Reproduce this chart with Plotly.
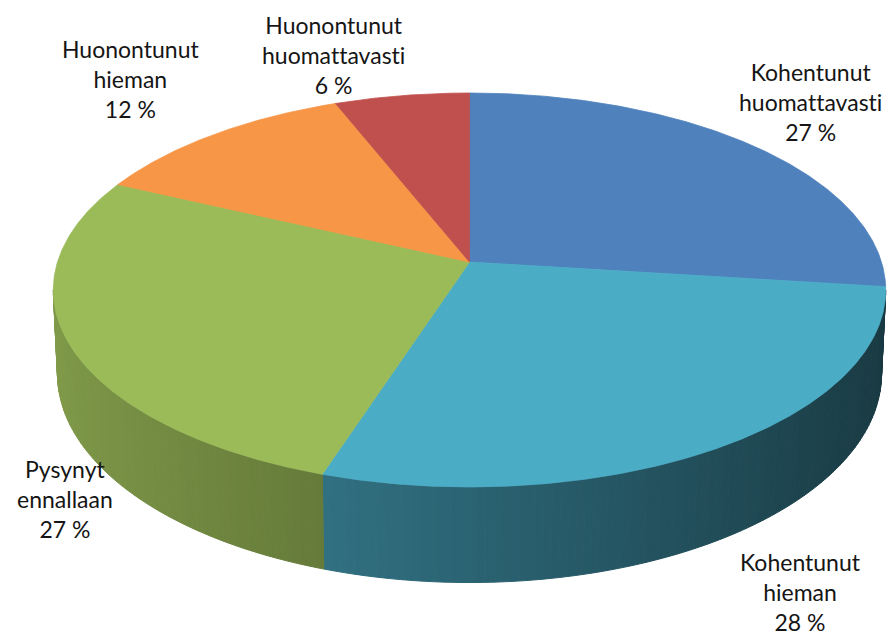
import numpy as np
import plotly.graph_objects as go

# --- data -------------------------------------------------------------
categories = [
    "Kohentunut huomattavasti",
    "Kohentunut hieman",
    "Pysynyt ennallaan",
    "Huonontunut hieman",
    "Huonontunut huomattavasti",
]
values = [27, 28, 27, 12, 6]
colors = ["#4F81BD", "#4BACC6", "#9BBB59", "#F79646", "#C0504D"]

# label anchor points (pixel space of the 894x637 canvas)
label_xy = [(810, 102), (800, 592), (65, 499), (130, 79), (333, 55)]

# --- geometry of the tilted, perspective-projected pie ------------------
W, Hpx = 894, 637
CX, CY = 469.5, 262.0      # projected centre of the top face
KX, KY = 412.0, 193.0      # horizontal / vertical radii before perspective
P = 0.142                  # perspective strength
DEPTH = 82.0               # thickness of the pie


def top_pt(theta):
    t = np.radians(theta)
    s, c = np.sin(t), np.cos(t)
    d = 1 + P * c
    return CX + KX * s / d, CY - KY * c / d


def bottom_pt(theta):
    t = np.radians(theta)
    c = np.cos(t)
    d = 1 + P * c
    x, y = top_pt(theta)
    return CX + (x - CX) * 0.99, y + DEPTH / d


def shade(hex_color, f):
    h = hex_color.lstrip("#")
    r, g, b = (int(h[i:i + 2], 16) for i in (0, 2, 4))
    return "rgb({},{},{})".format(int(r * f), int(g * f), int(b * f))


total = float(sum(values))
starts = np.cumsum([0] + values[:-1]) / total * 360.0
ends = np.cumsum(values) / total * 360.0

fig = go.Figure()

# visible part of the outer wall: where the rim faces the viewer
vis_lo = np.degrees(np.arccos(-P))
vis_hi = 360.0 - vis_lo

for a0, a1, col in zip(starts, ends, colors):
    lo, hi = max(a0, vis_lo), min(a1, vis_hi)
    if hi <= lo:
        continue
    n = max(1, int(np.ceil((hi - lo) / 1.0)))
    edges = np.linspace(lo, hi, n + 1)
    for t0, t1 in zip(edges[:-1], edges[1:]):
        sub = np.linspace(t0, t1, 4)
        tx, ty = top_pt(sub)
        bx, by = bottom_pt(sub[::-1])
        xs = np.concatenate([tx, bx, tx[:1]])
        ys = np.concatenate([ty, by, ty[:1]])
        tm = np.radians(0.5 * (t0 + t1))
        f = 0.58 - 0.25 * np.sin(tm)
        c = shade(col, f)
        fig.add_trace(go.Scatter(
            x=xs, y=ys, mode="lines", fill="toself", fillcolor=c,
            line=dict(color=c, width=1), hoverinfo="skip", showlegend=False,
        ))

# top faces of the slices
for a0, a1, col, name, v in zip(starts, ends, colors, categories, values):
    arc = np.linspace(a0, a1, max(8, int((a1 - a0) * 4)))
    ax, ay = top_pt(arc)
    xs = np.concatenate([[CX], ax, [CX]])
    ys = np.concatenate([[CY], ay, [CY]])
    fig.add_trace(go.Scatter(
        x=xs, y=ys, mode="lines", fill="toself", fillcolor=col,
        line=dict(color=col, width=0.8), name=name,
        hovertemplate=f"{name}: {v} %<extra></extra>", showlegend=False,
    ))

# data labels (zero-width non-joiners keep "tt"/"ti" from forming ligatures)
ZWNJ = "\u200c"
for name, v, (lx, ly) in zip(categories, values, label_xy):
    shown = name.replace("tt", "t" + ZWNJ + "t").replace("ti", "t" + ZWNJ + "i")
    text = shown.replace(" ", "<br>") + f"<br>{v} %"
    fig.add_annotation(
        x=lx, y=ly, xref="x", yref="y",
        text=text,
        showarrow=False, xanchor="center", yanchor="middle",
        font=dict(family="Lato, Open Sans, sans-serif", size=23, color="#151515"),
        align="center",
    )

fig.update_layout(
    width=W, height=Hpx,
    margin=dict(l=0, r=0, t=0, b=0),
    paper_bgcolor="white", plot_bgcolor="white",
    showlegend=False,
    xaxis=dict(range=[0, W], visible=False, fixedrange=True),
    yaxis=dict(range=[Hpx, 0], visible=False, fixedrange=True),
)

fig.write_html("out.html")
